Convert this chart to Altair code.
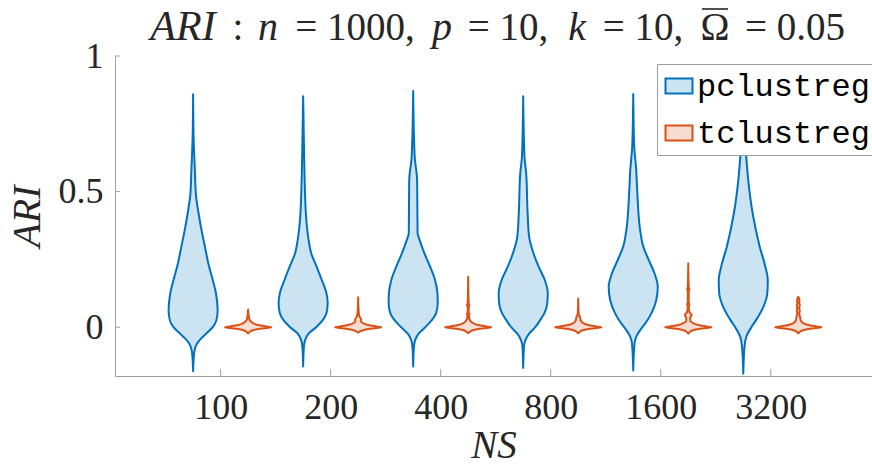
import altair as alt
import pandas as pd

NS = [100, 200, 400, 800, 1600, 3200]
METHODS = ["pclustreg", "tclustreg"]
FILLS = ["#cce3f2", "#f7ddd1"]
STROKES = ["#0072bd", "#d95319"]
Y_TICKS = [0, 0.5, 1]
GROUPS = [1, 2, 3, 4, 5, 6]

# pclustreg violins: ARI levels and relative density (percent of widest)
PC_Y = [
    [0.859, 0.70, 0.581, 0.483, 0.421, 0.359, 0.297, 0.235, 0.174, 0.125, 0.063, 0.026, 0.0, -0.024, -0.045, -0.06, -0.085, -0.12, -0.162],
    [0.852, 0.63, 0.421, 0.323, 0.272, 0.223, 0.174, 0.125, 0.088, 0.051, 0.026, 0.0, -0.024, -0.048, -0.073, -0.145],
    [0.871, 0.63, 0.544, 0.45, 0.346, 0.322, 0.272, 0.223, 0.174, 0.125, 0.088, 0.051, 0.026, 0.0, -0.024, -0.048, -0.073, -0.145],
    [0.852, 0.63, 0.568, 0.421, 0.334, 0.272, 0.223, 0.174, 0.125, 0.088, 0.051, 0.026, 0.0, -0.024, -0.048, -0.073, -0.15],
    [0.86, 0.668, 0.581, 0.507, 0.359, 0.297, 0.248, 0.198, 0.149, 0.100, 0.051, 0.014, -0.005, -0.036, -0.061, -0.16],
    [0.86, 0.75, 0.68, 0.618, 0.544, 0.421, 0.297, 0.223, 0.174, 0.125, 0.075, 0.026, 0.0, -0.036, -0.073, -0.172],
]
PC_D = [
    [0, 2, 7, 12, 22, 34, 48, 62, 80, 93, 100, 95, 80, 53, 29, 16, 6, 2, 0],
    [0, 4, 11, 22, 33, 55, 76, 95, 100, 95, 80, 53, 22, 8, 3, 0],
    [0, 6, 16, 17, 18, 26, 46, 69, 89, 99, 100, 93, 76, 49, 22, 8, 3, 0],
    [0, 5, 12, 18, 24, 42, 63, 88, 100, 98, 86, 69, 49, 24, 9, 3, 0],
    [0, 4, 12, 16, 28, 41, 63, 87, 100, 94, 74, 49, 33, 12, 5, 0],
    [0, 4, 8, 13, 20, 38, 67, 90, 100, 98, 82, 52, 33, 12, 5, 0],
]

# tclustreg violins
TC_Y = [
    [0.065, 0.045, 0.03, 0.022, 0.015, 0.008, 0.003, 0.0, -0.003, -0.007, -0.012, -0.018, -0.023],
    [0.11, 0.06, 0.04, 0.03, 0.02, 0.015, 0.008, 0.003, 0.0, -0.003, -0.007, -0.012, -0.016, -0.02],
    [0.186, 0.09, 0.08, 0.075, 0.055, 0.048, 0.04, 0.025, 0.015, 0.008, 0.003, 0.0, -0.003, -0.007, -0.012, -0.018, -0.022],
    [0.106, 0.05, 0.035, 0.025, 0.015, 0.008, 0.003, 0.0, -0.003, -0.007, -0.012, -0.018, -0.022],
    [0.236, 0.145, 0.14, 0.135, 0.09, 0.085, 0.08, 0.055, 0.045, 0.035, 0.025, 0.015, 0.008, 0.003, 0.0, -0.003, -0.007, -0.012, -0.018, -0.024],
    [0.112, 0.1, 0.09, 0.08, 0.07, 0.06, 0.05, 0.035, 0.025, 0.015, 0.008, 0.003, 0.0, -0.003, -0.007, -0.012, -0.018, -0.022],
]
TC_D = [
    [0, 2, 5, 10, 20, 41, 73, 94, 73, 41, 16, 6, 0],
    [0, 2, 5, 12, 12, 20, 41, 73, 94, 73, 41, 16, 6, 0],
    [0, 2, 5, 2, 2, 5, 3, 8, 20, 41, 73, 94, 73, 41, 16, 6, 0],
    [0, 2, 8, 10, 20, 41, 73, 94, 73, 41, 16, 6, 0],
    [0, 2, 5, 2, 2, 5, 2, 5, 14, 8, 8, 20, 41, 73, 94, 73, 41, 16, 6, 0],
    [0, 5, 4, 6, 4, 6, 4, 8, 10, 20, 41, 73, 94, 73, 41, 16, 6, 0],
]

rows = []
for m, (YS, DS) in zip(METHODS, [(PC_Y, PC_D), (TC_Y, TC_D)]):
    for i, (ys, ds) in enumerate(zip(YS, DS)):
        for y, d in zip(ys, ds):
            rows.append({"method": m, "group": GROUPS[i], "ari": y, "dens": d})
df = pd.DataFrame(rows)

HALF = 0.223
OFF = 0.25
AXC = "#a0a0a0"
TXT = "#262626"
SERIF = "Liberation Serif"

xscale = alt.Scale(domain=[0.04, 6.92], nice=False, zero=False)
yscale = alt.Scale(domain=[-0.18, 1], nice=False, zero=False)

label_expr = "[" + ",".join("'%d'" % v for v in NS) + "][datum.value - 1]"

xaxis = alt.Axis(
    values=GROUPS, labelExpr=label_expr, title="NS", ticks=False, grid=False,
    labelFont=SERIF, labelFontSize=36, labelColor=TXT, labelPadding=14,
    titleFont=SERIF, titleFontSize=39, titleFontStyle="italic", titleFontWeight="normal",
    titleColor=TXT, titlePadding=1, domainColor=AXC, domainWidth=1)
yaxis = alt.Axis(
    values=Y_TICKS, format="~g", title="ARI", ticks=False, grid=False,
    labelFont=SERIF, labelFontSize=36, labelColor=TXT, labelPadding=12,
    titleFont=SERIF, titleFontSize=40, titleFontStyle="italic", titleFontWeight="normal",
    titleColor=TXT, titlePadding=11, domainColor=AXC, domainWidth=1)

legend = alt.Legend(
    title=None, orient="none", legendX=542, legendY=8,
    symbolType="M-1,-0.55H1V0.55H-1Z", symbolSize=729, symbolStrokeWidth=2,
    symbolOpacity=1,
    labelFont="Liberation Mono", labelFontSize=32, labelColor="#000000",
    labelOffset=2, labelLimit=0, padding=6, rowPadding=15,
    fillColor="white", strokeColor=AXC,
)

violins = alt.Chart(df).transform_calculate(
    xl=f"datum.group + (datum.method == 'pclustreg' ? -{OFF} : {OFF}) - datum.dens / 100 * {HALF}",
    xr=f"datum.group + (datum.method == 'pclustreg' ? -{OFF} : {OFF}) + datum.dens / 100 * {HALF}",
    vid="datum.method + '_' + datum.group",
).mark_area(orient="horizontal", interpolate="monotone", strokeWidth=2, fillOpacity=1,
            strokeJoin="round").encode(
    x=alt.X("xl:Q", scale=xscale, axis=xaxis),
    x2="xr:Q",
    y=alt.Y("ari:Q", scale=yscale, axis=yaxis),
    color=alt.Color("method:N", scale=alt.Scale(domain=METHODS, range=FILLS), legend=legend),
    stroke=alt.Stroke("method:N", scale=alt.Scale(domain=METHODS, range=STROKES), legend=legend),
    detail="vid:N",
)

yticks = alt.Chart(pd.DataFrame({"v": Y_TICKS})).mark_rule(color=AXC, strokeWidth=1).encode(
    y=alt.Y("v:Q", scale=yscale, axis=yaxis), x=alt.value(0), x2=alt.value(5))
xticks = alt.Chart(pd.DataFrame({"g": GROUPS})).mark_rule(color=AXC, strokeWidth=1).encode(
    x=alt.X("g:Q", scale=xscale, axis=xaxis), y=alt.value(320), y2=alt.value(313))

# title pieces (mixed italic / roman, as in the LaTeX title)
TITLE_PARTS = ["ARI", ":", "n", "= 1000,", "p", "= 10,", "k", "= 10,", "\u03a9", "= 0.05"]
TITLE_ITALIC = [True, False, True, False, True, False, True, False, False, False]
TITLE_SIZE = [42, 39, 40, 39, 40, 39, 40, 39, 39, 39]
TITLE_CX = [68, 123, 153, 240, 327, 393, 462, 528, 600, 680]
title_layers = []
for t, it, fs, cx in zip(TITLE_PARTS, TITLE_ITALIC, TITLE_SIZE, TITLE_CX):
    title_layers.append(
        alt.Chart(pd.DataFrame({"t": [t]})).mark_text(
            font=SERIF, fontSize=fs, fontStyle="italic" if it else "normal",
            color=TXT, align="center", baseline="alphabetic",
        ).encode(x=alt.value(cx), y=alt.value(-16), text="t:N")
    )
# bar over Omega (\overline{\Omega})
omega_bar = alt.Chart(pd.DataFrame({"t": [0]})).mark_rule(color=TXT, strokeWidth=1.6).encode(
    x=alt.value(587), x2=alt.value(613), y=alt.value(-47))

chart = alt.layer(violins, yticks, xticks, *title_layers, omega_bar).properties(
    width=757, height=320,
    autosize=alt.AutoSizeParams(type="none"),
    padding={"left": 115, "top": 56, "right": 0, "bottom": 94},
    background="white",
).configure_view(stroke=None)

chart.save("out.html", embed_options={"renderer": "svg", "actions": False})
